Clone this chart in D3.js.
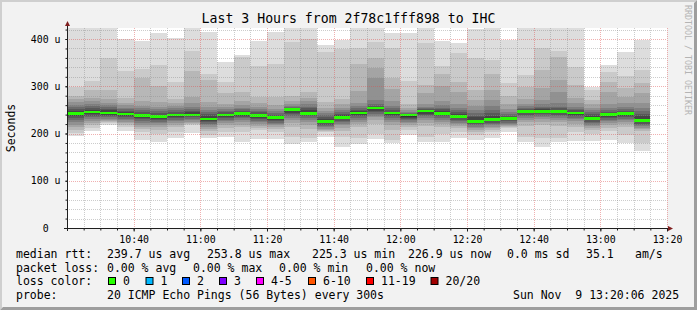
<!DOCTYPE html>
<html>
<head>
<meta charset="utf-8">
<style>
body { margin: 0; background: #f2f2f2; }
text { font-family: "DejaVu Sans Mono", monospace; white-space: pre; fill: #000; }
</style>
</head>
<body>
<script src="https://cdnjs.cloudflare.com/ajax/libs/d3/7.8.5/d3.min.js"></script>
<script>
// canvas and plot frame
var width = 697;
var height = 310;
var plot = { left: 67, right: 667, top: 28, bottom: 228 };

// time range, 5 minute bins
var startTime = new Date(2025, 10, 9, 10, 20);
var endTime = new Date(2025, 10, 9, 13, 20);
var stepMinutes = 5;

// y range in microseconds
var yMax = 423.3;
var yTicks = [0, 100, 200, 300, 400];

// median rtt per bin (us)
var medians = [242, 245.5, 243.3, 241.2, 237.7, 235.6, 239.1, 239.1, 230.7, 239.1, 242, 237.7,
  233.5, 250.4, 242, 225.3, 233.5, 243.3, 253.8, 243.3, 239.1, 247.6, 242, 235.6,
  225.4, 229.2, 231.4, 246.2, 246.2, 246.2, 243.3, 231.4, 239.8, 242, 226.9];

// 20 sorted pings per bin (us)
var pings = [
  [194,201,208,214,219,224,228,232,236,240,244,248,252,257,261,266,272,280,299,440],
  [205,211,217,222,227,231,235,238,241,244,247,250,254,258,262,268,276,292,311,440],
  [219,222,224,226,228,231,234,237,240,243,246,249,252,256,260,265,272,292,359,435],
  [205,214,218,222,225,228,231,234,237,240,243,245,248,251,255,260,265,276,333,400],
  [186,203,209,214,219,223,227,230,233,236,239,242,245,249,253,258,268,317,336,396],
  [181,200,208,214,218,222,225,228,231,234,237,240,243,247,251,257,266,300,345,412],
  [191,204,213,218,222,226,229,232,235,238,240,242,245,249,253,258,264,273,310,403],
  [202,218,220,222,225,228,231,234,237,240,242,245,248,252,257,265,278,332,374,428],
  [191,197,205,210,214,218,221,224,227,230,233,237,241,245,250,256,266,313,326,415],
  [193,204,212,218,222,226,229,232,235,238,240,242,245,248,252,256,262,285,310,352],
  [183,204,213,219,224,228,232,235,238,241,243,245,248,251,255,260,268,288,362,367],
  [188,207,212,216,220,224,227,230,233,236,239,242,245,248,252,257,264,278,343,396],
  [188,204,209,213,217,220,223,226,229,232,235,237,240,243,247,252,260,278,348,415],
  [177,193,214,222,228,233,237,241,244,247,249,251,253,256,259,263,269,280,394,430],
  [183,190,210,219,224,228,232,236,239,242,245,249,253,257,262,268,276,288,401,426],
  [192,203,205,207,210,213,216,219,222,225,228,231,235,239,243,248,255,266,373,387],
  [172,193,205,212,217,221,224,227,230,233,236,239,242,246,250,255,262,274,379,398],
  [177,190,213,220,225,229,233,236,239,242,245,247,250,253,258,265,290,348,382,430],
  [188,200,220,229,234,238,242,245,248,251,253,255,258,262,270,317,339,360,394,428],
  [179,186,208,218,224,229,233,236,239,242,244,246,249,253,258,268,294,318,382,412],
  [197,207,214,218,222,225,228,231,233,235,237,239,241,243,246,250,255,262,311,412],
  [183,193,216,223,228,232,236,239,242,245,247,249,251,254,257,262,285,303,391,428],
  [183,200,213,220,225,229,233,236,239,242,245,248,251,255,260,269,301,325,343,396],
  [191,204,211,216,220,223,226,229,232,235,238,241,245,249,254,262,288,308,370,391],
  [186,197,204,208,211,214,217,220,223,226,229,234,238,243,249,258,270,292,359,421],
  [190,204,207,211,214,217,220,223,226,229,233,238,244,250,258,271,292,325,356,425],
  [204,211,213,215,218,221,223,226,228,230,233,235,238,242,246,252,262,279,306,398],
  [181,193,216,224,229,233,237,240,243,245,248,250,252,255,258,263,274,299,324,428],
  [172,191,218,225,230,234,238,241,244,247,249,251,254,257,262,271,296,334,382,428],
  [183,190,216,224,229,233,237,240,243,246,248,250,253,257,264,288,313,362,374,428],
  [184,204,214,221,226,230,233,236,239,242,244,246,249,252,257,264,275,303,341,428],
  [184,200,207,212,216,219,222,225,228,231,234,238,242,246,250,255,262,271,292,299],
  [186,205,212,218,222,226,229,232,235,238,240,242,245,249,254,262,288,310,331,345],
  [179,197,214,220,224,228,231,234,237,240,242,244,247,251,257,265,278,296,322,373],
  [163,179,205,209,212,215,218,221,224,227,231,237,242,248,255,264,285,306,334,398]
];

// legend texts
var titleText = 'Last 3 Hours from 2f78c1fff898 to IHC';
var rttLine = ['median rtt:', '239.7 us avg', '253.8 us max', '225.3 us min', '226.9 us now', '0.0 ms sd', '35.1', 'am/s'];
var lossLine = ['packet loss:', '0.00 % avg', '0.00 % max', '0.00 % min', '0.00 % now'];
var lossLabels = ['0', '1', '2', '3', '4-5', '6-10', '11-19', '20/20'];
var lossColors = ['#26ff00', '#00b8ff', '#0059ff', '#7e00ff', '#ff00ff', '#ff5500', '#ff0000', '#a10000'];
var probeLine = ['probe:', '20 ICMP Echo Pings (56 Bytes) every 300s', 'Sun Nov  9 13:20:06 2025'];

// layout of legend columns
var rttX = [16, 107, 207, 312, 408, 507, 586, 635];
var lossX = [16, 107, 193, 279, 366];
var boxX = [108.5, 146, 182.5, 219.5, 256.5, 308.5, 366.5, 431];
var probeX = [16, 107, 513];
var lineY = [258, 271.7, 285.3, 299];

var svg = d3.select('body')
  .append('svg')
  .attr('width', width)
  .attr('height', height);

// background and 3d frame
svg.append('rect').attr('width', width).attr('height', height).attr('fill', '#f2f2f2');
svg.append('path').attr('d', 'M0,0H697L695,2H2V308L0,310Z').attr('fill', '#cfcfcf');
svg.append('path').attr('d', 'M697,0V310H0L3,307H694V3Z').attr('fill', '#9e9e9e');

var x = d3.scaleTime()
  .domain([startTime, endTime])
  .range([plot.left, plot.right]);

var y = d3.scaleLinear()
  .domain([0, yMax])
  .range([plot.bottom, plot.top]);

svg.append('rect')
  .attr('x', plot.left).attr('y', plot.top)
  .attr('width', plot.right - plot.left).attr('height', plot.bottom - plot.top)
  .attr('fill', '#ffffff');

svg.append('clipPath').attr('id', 'clip')
  .append('rect')
  .attr('x', plot.left).attr('y', plot.top)
  .attr('width', plot.right - plot.left).attr('height', plot.bottom - plot.top);

// smoke: nested bands between ping i and ping 21-i, darker inward
var half = 10;
var bins = pings.map(function(p, i) {
  var t0 = d3.timeMinute.offset(startTime, i * stepMinutes);
  var t1 = d3.timeMinute.offset(startTime, (i + 1) * stepMinutes);
  return { t0: t0, t1: t1, p: p, median: medians[i] };
});

var smoke = svg.append('g').attr('clip-path', 'url(#clip)').attr('shape-rendering', 'crispEdges');
d3.range(half).forEach(function(k) {
  var c = Math.floor(190 / half * (half - (k + 1))) + 50;
  smoke.append('g')
    .selectAll('rect')
    .data(bins)
    .enter()
    .append('rect')
    .attr('x', function(d) { return x(d.t0); })
    .attr('width', function(d) { return x(d.t1) - x(d.t0); })
    .attr('y', function(d) { return y(d.p[19 - k]); })
    .attr('height', function(d) { return y(d.p[k]) - y(d.p[19 - k]); })
    .attr('fill', d3.rgb(c, c, c));
});

// median band
smoke.append('g')
  .selectAll('rect')
  .data(bins)
  .enter()
  .append('rect')
  .attr('x', function(d) { return x(d.t0); })
  .attr('width', function(d) { return x(d.t1) - x(d.t0); })
  .attr('y', function(d) { return y(d.median) - 1.3; })
  .attr('height', 2.6)
  .attr('fill', lossColors[0]);

// grid on top of the smoke
var minorTimes = d3.timeMinute.every(5).range(d3.timeMinute.offset(startTime, 5), d3.timeMinute.offset(endTime, 1));
var majorTimes = minorTimes.filter(function(d) { return d.getMinutes() % 20 === 0; });
var minorVals = d3.range(20, yMax, 20);
var grid = svg.append('g').attr('fill', 'none').attr('stroke-dasharray', '1,1');

grid.selectAll('.vminor')
  .data(minorTimes.filter(function(d) { return d.getMinutes() % 20 !== 0; }))
  .enter().append('line')
  .attr('x1', function(d) { return Math.round(x(d)) + 0.5; })
  .attr('x2', function(d) { return Math.round(x(d)) + 0.5; })
  .attr('y1', plot.top).attr('y2', plot.bottom)
  .attr('stroke', 'rgba(143,143,143,0.45)');

grid.selectAll('.hminor')
  .data(minorVals.filter(function(d) { return d % 100 !== 0; }))
  .enter().append('line')
  .attr('x1', plot.left).attr('x2', plot.right)
  .attr('y1', function(d) { return Math.round(y(d)) + 0.5; })
  .attr('y2', function(d) { return Math.round(y(d)) + 0.5; })
  .attr('stroke', 'rgba(143,143,143,0.45)');

grid.selectAll('.vmajor')
  .data(majorTimes)
  .enter().append('line')
  .attr('x1', function(d) { return Math.round(x(d)) + 0.5; })
  .attr('x2', function(d) { return Math.round(x(d)) + 0.5; })
  .attr('y1', plot.top).attr('y2', plot.bottom)
  .attr('stroke', 'rgba(222,79,79,0.45)');

grid.selectAll('.hmajor')
  .data(yTicks.filter(function(d) { return d > 0; }))
  .enter().append('line')
  .attr('x1', plot.left).attr('x2', plot.right)
  .attr('y1', function(d) { return Math.round(y(d)) + 0.5; })
  .attr('y2', function(d) { return Math.round(y(d)) + 0.5; })
  .attr('stroke', 'rgba(222,79,79,0.45)');

// axes
var xAxis = d3.axisBottom(x)
  .tickValues(majorTimes)
  .tickSize(3)
  .tickPadding(4)
  .tickFormat(d3.timeFormat('%H:%M'));

var xMinor = d3.axisBottom(x)
  .tickValues(minorTimes)
  .tickSize(2)
  .tickFormat('');

var yAxis = d3.axisLeft(y)
  .tickValues(yTicks)
  .tickSize(2)
  .tickPadding(5)
  .tickFormat(function(d) { return d === 0 ? '0  ' : d + ' u'; });

var yMinor = d3.axisLeft(y)
  .tickValues(minorVals)
  .tickSize(2)
  .tickFormat('');

[xMinor, xAxis].forEach(function(a) {
  var g = svg.append('g')
    .attr('transform', 'translate(0,' + (plot.bottom + 0.5) + ')')
    .call(a);
  g.select('.domain').remove();
  g.selectAll('line').attr('stroke', '#1f1f1f');
  g.selectAll('text').attr('font-family', 'DejaVu Sans Mono').attr('font-size', '9.9px').attr('fill', '#000');
});

[yMinor, yAxis].forEach(function(a) {
  var g = svg.append('g')
    .attr('transform', 'translate(' + (plot.left + 0.5) + ',0)')
    .call(a);
  g.select('.domain').remove();
  g.selectAll('line').attr('stroke', '#1f1f1f');
  g.selectAll('text').attr('font-family', 'DejaVu Sans Mono').attr('font-size', '9.9px').attr('fill', '#000');
});

svg.append('line')
  .attr('x1', plot.left - 3).attr('x2', plot.right + 1)
  .attr('y1', plot.bottom + 0.5).attr('y2', plot.bottom + 0.5)
  .attr('stroke', '#1f1f1f');
svg.append('line')
  .attr('x1', plot.left + 0.5).attr('x2', plot.left + 0.5)
  .attr('y1', plot.bottom + 3).attr('y2', plot.top - 2)
  .attr('stroke', '#1f1f1f');
svg.append('path')
  .attr('d', 'M' + (plot.left - 2) + ',' + (plot.top - 2) + 'L' + (plot.left + 3) + ',' + (plot.top - 2) + 'L' + (plot.left + 0.5) + ',' + (plot.top - 7) + 'Z')
  .attr('fill', '#801f1f');
svg.append('path')
  .attr('d', 'M' + (plot.right + 1) + ',' + (plot.bottom - 2) + 'L' + (plot.right + 1) + ',' + (plot.bottom + 3) + 'L' + (plot.right + 6) + ',' + (plot.bottom + 0.5) + 'Z')
  .attr('fill', '#801f1f');

// title and side labels
svg.append('text')
  .attr('x', 348.5).attr('y', 23)
  .attr('text-anchor', 'middle')
  .attr('font-size', '13.2px')
  .text(titleText);

svg.append('text')
  .attr('transform', 'translate(15,' + ((plot.top + plot.bottom) / 2) + ') rotate(-90)')
  .attr('text-anchor', 'middle')
  .attr('font-size', '11.5px')
  .text('Seconds');

svg.append('text')
  .attr('transform', 'translate(684.5,5) rotate(90)')
  .attr('font-size', '8.3px')
  .style('fill', '#b4b4b4')
  .text('RRDTOOL / TOBI OETIKER');

// legend
var legend = svg.append('g').attr('font-size', '11.5px');

function legendRow(texts, xs, yy) {
  legend.append('g')
    .selectAll('text')
    .data(texts)
    .enter()
    .append('text')
    .attr('x', function(d, i) { return xs[i]; })
    .attr('y', yy)
    .text(function(d) { return d; });
}

legendRow(rttLine, rttX, lineY[0]);
legendRow(lossLine, lossX, lineY[1]);
legendRow(['loss color:'], [16], lineY[2]);
legendRow(probeLine, probeX, lineY[3]);

legend.append('g')
  .selectAll('rect')
  .data(lossColors)
  .enter()
  .append('rect')
  .attr('x', function(d, i) { return boxX[i]; })
  .attr('y', lineY[2] - 7.8)
  .attr('width', 7)
  .attr('height', 7)
  .attr('fill', function(d) { return d; })
  .attr('stroke', '#000')
  .attr('stroke-width', 1);

legend.append('g')
  .selectAll('text')
  .data(lossLabels)
  .enter()
  .append('text')
  .attr('x', function(d, i) { return boxX[i] + 14.5; })
  .attr('y', lineY[2])
  .text(function(d) { return d; });
</script>
</body>
</html>
